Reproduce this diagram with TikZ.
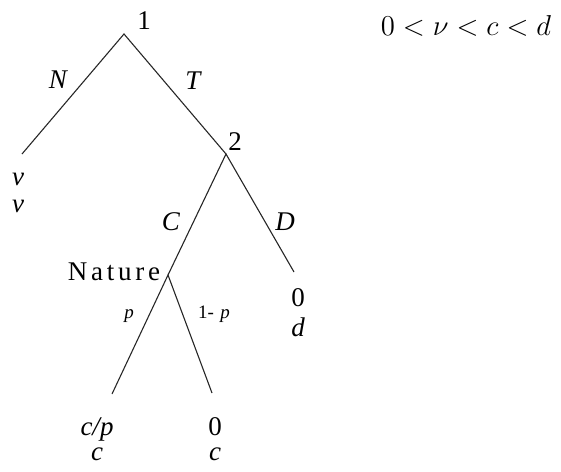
\documentclass[tikz,border=0pt]{standalone}
\usepackage[no-math]{fontspec}
\newfontfamily\tms{Liberation Serif}
\newfontfamily\spacedserif[LetterSpace=14]{Liberation Serif}
\begin{document}
\begin{tikzpicture}[x=0.5pt,y=-0.5pt,
  edge/.style={line width=0.55pt, draw=black!85},
  lbl/.style={anchor=base, inner sep=0pt, font=\tms\fontsize{13.5}{16}\selectfont},
  small/.style={anchor=base, inner sep=0pt, font=\tms\fontsize{9.5}{11}\selectfont}]
\useasboundingbox (0,0) rectangle (561,471);
% decision nodes and ends
\coordinate (n1) at (124,34);
\coordinate (nN) at (22,154);
\coordinate (n2) at (226,154);
\coordinate (nD) at (294,272);
\coordinate (nat) at (168,275);
\coordinate (np) at (112,394);
\coordinate (nq) at (212,393);
\draw[edge] (nN) -- (n1) -- (n2);
\draw[edge] (nat) -- (n2) -- (nD);
\draw[edge] (np) -- (nat) -- (nq);
% labels
\node[lbl] (l1) at (144,29) {1};
\node[lbl] (lN) at (58,88) {\itshape N};
\node[lbl] (lT) at (193,89) {\itshape T};
\node[lbl] (l2) at (235,150) {2};
\node[lbl] (v1) at (18,185) {\itshape v};
\node[lbl] (v2) at (18,212) {\itshape v};
\node[lbl] (lC) at (171,230) {\itshape C};
\node[lbl] (lD) at (285,230) {\itshape D};
\node[lbl, font=\spacedserif\fontsize{13.5}{16}\selectfont] (lNat) at (114,280) {Nature};
\node[small] (lp) at (129,318) {\itshape p};
\node[small] (lq) at (214,318) {1-\hspace{0.35em}\itshape p};
\node[lbl] (d0) at (298,306) {0};
\node[lbl] (dd) at (298,336) {\itshape d};
\node[lbl] (pa) at (97,435) {\itshape c/p};
\node[lbl] (pb) at (97,460) {\itshape c};
\node[lbl] (qa) at (215,435) {0};
\node[lbl] (qb) at (215,460) {\itshape c};
\node[anchor=base, inner sep=0pt, font=\fontsize{14.7}{17}\selectfont] (ineq) at (466,35) {$0<\nu<c<d$};
\end{tikzpicture}
\end{document}
